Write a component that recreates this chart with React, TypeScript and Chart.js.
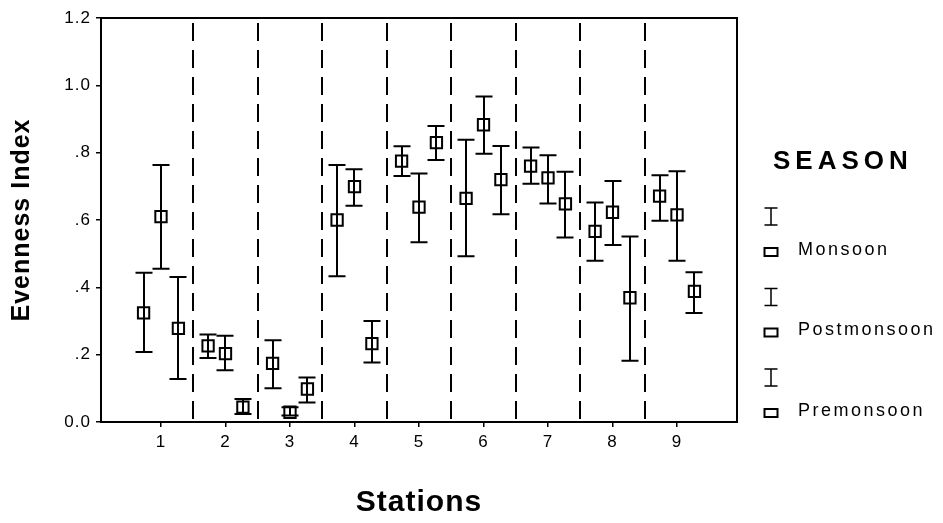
import React, { useEffect, useRef } from 'react';
import { Chart, registerables } from 'chart.js';

Chart.register(...registerables);

const stations = [1, 2, 3, 4, 5, 6, 7, 8, 9];
const seasons = ['Monsoon', 'Postmonsoon', 'Premonsoon'];
const seasonOffsets = [-0.27, 0, 0.27];

const monsoonMean = [0.324, 0.226, 0.174, 0.6, 0.775, 0.664, 0.76, 0.566, 0.671];
const monsoonLow = [0.208, 0.19, 0.1, 0.433, 0.731, 0.492, 0.708, 0.479, 0.598];
const monsoonHigh = [0.443, 0.26, 0.243, 0.763, 0.819, 0.838, 0.815, 0.652, 0.733];

const postMean = [0.61, 0.203, 0.029, 0.699, 0.638, 0.883, 0.725, 0.623, 0.615];
const postLow = [0.455, 0.154, 0.019, 0.642, 0.534, 0.797, 0.649, 0.526, 0.479];
const postHigh = [0.763, 0.256, 0.044, 0.751, 0.738, 0.967, 0.792, 0.716, 0.745];

const preMean = [0.278, 0.044, 0.098, 0.233, 0.83, 0.72, 0.648, 0.369, 0.388];
const preLow = [0.128, 0.024, 0.058, 0.177, 0.778, 0.617, 0.548, 0.182, 0.324];
const preHigh = [0.431, 0.068, 0.132, 0.3, 0.879, 0.82, 0.743, 0.551, 0.445];

const yTicks = [0, 0.2, 0.4, 0.6, 0.8, 1.0, 1.2];
const separators = [1.5, 2.5, 3.5, 4.5, 5.5, 6.5, 7.5, 8.5];

const FONT = '"Liberation Sans", Arial, Helvetica, sans-serif';

function fmtY(v: number): string {
  if (Math.abs(v) < 1e-9) return '0.0';
  if (v >= 1) return v.toFixed(1);
  return v.toFixed(1).replace(/^0/, '');
}

export default function App() {
  const ref = useRef<HTMLCanvasElement>(null);

  useEffect(() => {
    if (!ref.current) return;
    const series = [
      { name: seasons[0], mean: monsoonMean, low: monsoonLow, high: monsoonHigh },
      { name: seasons[1], mean: postMean, low: postLow, high: postHigh },
      { name: seasons[2], mean: preMean, low: preLow, high: preHigh },
    ];

    const datasets: any[] = series.map((s, i) => ({
      label: s.name,
      data: stations.map((st, j) => ({ x: st + seasonOffsets[i], y: s.mean[j] })),
      errLow: s.low,
      errHigh: s.high,
      showLine: false,
      pointStyle: 'rect',
      pointRadius: 8,
      pointBorderWidth: 2,
      pointBorderColor: '#000',
      pointBackgroundColor: 'rgba(0,0,0,0)',
    }));

    const spssPlugin = {
      id: 'spssDecor',
      beforeDraw(chart: any) {
        chart.ctx.letterSpacing = '1px';
      },
      beforeDatasetsDraw(chart: any) {
        const { ctx, chartArea: a, scales } = chart;
        const x = scales.x;
        const y = scales.y;
        ctx.save();
        ctx.strokeStyle = '#000';
        ctx.lineWidth = 2;
        ctx.setLineDash([18, 9]);
        separators.forEach((v) => {
          const px = Math.round(x.getPixelForValue(v));
          ctx.beginPath();
          ctx.moveTo(px, a.top + 5);
          ctx.lineTo(px, a.bottom);
          ctx.stroke();
        });
        ctx.setLineDash([]);
        chart.data.datasets.forEach((ds: any) => {
          ds.data.forEach((p: any, j: number) => {
            const px = Math.round(x.getPixelForValue(p.x));
            const yl = y.getPixelForValue(ds.errLow[j]);
            const yh = y.getPixelForValue(ds.errHigh[j]);
            ctx.beginPath();
            ctx.moveTo(px, yl);
            ctx.lineTo(px, yh);
            ctx.moveTo(px - 8.5, yl);
            ctx.lineTo(px + 8.5, yl);
            ctx.moveTo(px - 8.5, yh);
            ctx.lineTo(px + 8.5, yh);
            ctx.stroke();
          });
        });
        ctx.strokeRect(a.left, a.top, a.right - a.left, a.bottom - a.top);
        ctx.restore();
      },
      afterDraw(chart: any) {
        const { ctx, chartArea: a } = chart;
        ctx.save();
        ctx.fillStyle = '#000';
        ctx.strokeStyle = '#000';
        ctx.textAlign = 'left';
        ctx.textBaseline = 'middle';
        ctx.font = `bold 26px ${FONT}`;
        ctx.letterSpacing = '5px';
        const lx = a.right + 36;
        ctx.fillText('SEASON', lx, 154);
        ctx.font = `18px ${FONT}`;
        ctx.letterSpacing = '2.5px';
        seasons.forEach((name, i) => {
          const ty = 242 + i * 80.5;
          const cx = lx - 2;
          ctx.lineWidth = 1.5;
          ctx.beginPath();
          ctx.moveTo(cx, ty - 42);
          ctx.lineTo(cx, ty - 25);
          ctx.moveTo(cx - 6.5, ty - 42);
          ctx.lineTo(cx + 6.5, ty - 42);
          ctx.moveTo(cx - 6.5, ty - 25);
          ctx.lineTo(cx + 6.5, ty - 25);
          ctx.stroke();
          ctx.lineWidth = 2;
          ctx.strokeRect(cx - 6.5, ty - 2, 13, 8);
          ctx.fillText(name, lx + 25, ty);
        });
        ctx.restore();
        ctx.letterSpacing = '0px';
      },
    };

    const chart = new Chart(ref.current, {
      type: 'scatter',
      data: { datasets },
      options: {
        responsive: false,
        animation: false,
        layout: { padding: { top: 7, right: 198, bottom: 0, left: 0 } },
        plugins: {
          legend: { display: false },
          tooltip: { enabled: false },
        },
        scales: {
          x: {
            type: 'linear',
            min: 0.07,
            max: 9.93,
            afterBuildTicks: (s: any) => {
              s.ticks = stations.map((v) => ({ value: v }));
            },
            afterFit: (s: any) => {
              s.height = 93;
              s.paddingLeft = 0;
              s.paddingRight = 0;
            },
            grid: {
              display: true,
              drawOnChartArea: false,
              drawTicks: true,
              tickLength: 5,
              color: '#000',
              lineWidth: 1.5,
            },
            border: { display: true, color: '#000', width: 2 },
            ticks: {
              color: '#000',
              font: { family: FONT, size: 17 },
              padding: 5,
              maxRotation: 0,
              autoSkip: false,
              callback: (v: any) => String(v),
            },
            title: {
              display: true,
              text: 'Stations',
              color: '#000',
              font: { family: FONT, size: 30, weight: 'bold', lineHeight: 0.8 },
              padding: 0,
            },
          },
          y: {
            type: 'linear',
            min: 0,
            max: 1.2,
            afterBuildTicks: (s: any) => {
              s.ticks = yTicks.map((v) => ({ value: v }));
            },
            afterFit: (s: any) => {
              s.width = 93;
              s.paddingTop = 0;
              s.paddingBottom = 0;
            },
            grid: {
              display: true,
              drawOnChartArea: false,
              drawTicks: true,
              tickLength: 5,
              color: '#000',
              lineWidth: 1.5,
            },
            border: { display: true, color: '#000', width: 2 },
            ticks: {
              color: '#000',
              font: { family: FONT, size: 17 },
              padding: 5,
              autoSkip: false,
              callback: (v: any) => fmtY(Number(v)),
            },
            title: {
              display: true,
              text: 'Evenness Index',
              color: '#000',
              font: { family: FONT, size: 25, weight: 'bold', lineHeight: 0.8 },
              padding: { top: 4, bottom: 0 },
            },
          },
        },
      },
      plugins: [spssPlugin],
    } as any);

    return () => {
      chart.destroy();
    };
  }, []);

  return (
    <div style={{ width: 927, height: 507, background: '#fff' }}>
      <canvas ref={ref} width={927} height={507} style={{ display: 'block' }} />
    </div>
  );
}
